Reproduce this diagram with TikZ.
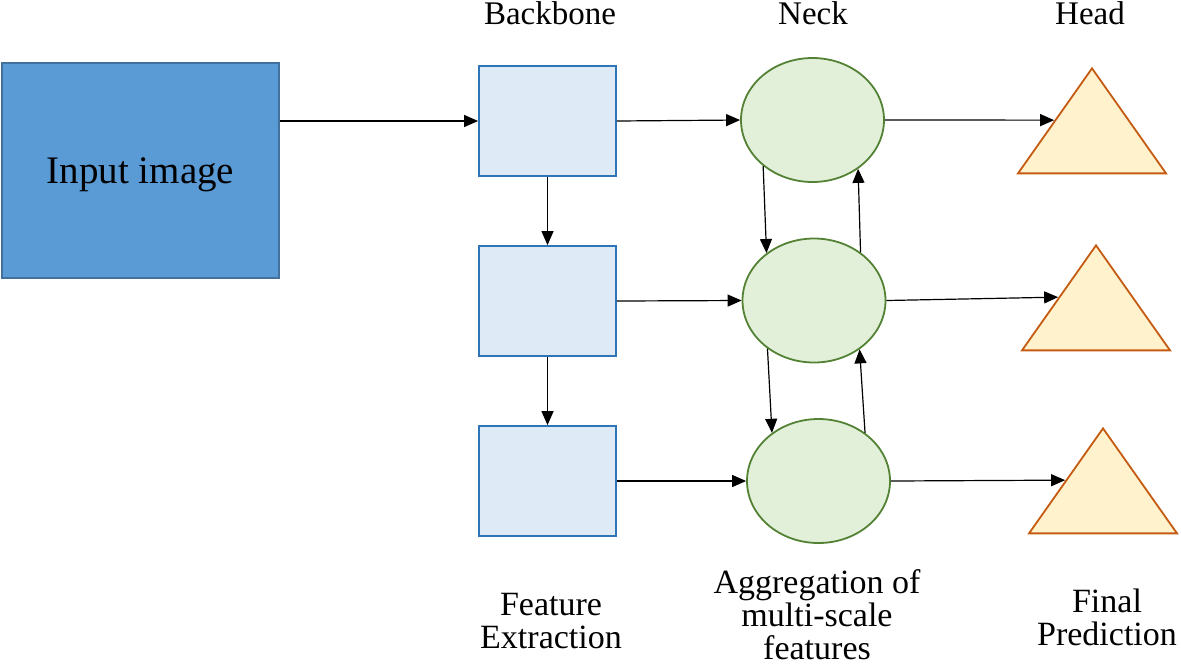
\documentclass[tikz,border=0pt]{standalone}
\usepackage{fontspec}
\setmainfont{Liberation Serif}
\usetikzlibrary{arrows.meta,shapes.geometric}

\definecolor{infill}{HTML}{5B9BD5}
\definecolor{inedge}{HTML}{41719C}
\definecolor{bbfill}{HTML}{DEEBF7}
\definecolor{bbedge}{HTML}{2E75B6}
\definecolor{nkfill}{HTML}{E2F0D9}
\definecolor{nkedge}{HTML}{548235}
\definecolor{hdfill}{HTML}{FFF2CC}
\definecolor{hdedge}{HTML}{C55A11}

\begin{document}
\begin{tikzpicture}[x=0.5pt, y=-0.5pt,
  inbox/.style  = {draw=inedge, fill=infill, line width=0.8pt,
                   minimum width=138.5pt, minimum height=107.5pt,
                   text depth=0pt, font=\fontsize{19.5}{22}\selectfont},
  stage/.style  = {draw=bbedge, fill=bbfill, line width=0.9pt,
                   minimum width=68.5pt, minimum height=55pt},
  neck/.style   = {ellipse, draw=nkedge, fill=nkfill, line width=0.9pt,
                   minimum width=71.5pt, minimum height=62pt},
                   % a head is an upright triangle, entered on its left side
  head/.style   = {isosceles triangle, isosceles triangle stretches,
                   shape border rotate=90, anchor=apex, inner sep=0pt,
                   draw=hdedge, fill=hdfill, line width=0.9pt,
                   minimum width=74pt, minimum height=52.5pt},
  arrow/.style  = {line width=0.6pt, -{Triangle[length=7pt,width=6pt]}},
  title/.style  = {font=\fontsize{16.5}{18}\selectfont, anchor=base,
                   inner sep=0pt},
  lbl/.style    = {font=\fontsize{17}{16.5}\selectfont, align=center,
                   inner sep=0pt},
]
  \useasboundingbox (0,0) rectangle (1181,666);

  \node[inbox] (img) at (140.5,170.5) {Input image};

  % backbone column
  \node[stage] (b1) at (547.5,121) {};
  \node[stage] (b2) at (547.5,301) {};
  \node[stage] (b3) at (547.5,481) {};

  % neck column
  \node[neck] (n1) at (812.5,120) {};
  \node[neck] (n2) at (814,300.5) {};
  \node[neck] (n3) at (818.5,481) {};

  % head column
  \node[head] (h1) at (1092,66) {};
  \node[head] (h2) at (1096,243) {};
  \node[head] (h3) at (1103,426) {};

  \draw[arrow] (img.east |- 0,121) -- (b1.west);
  \draw[arrow] (b1) -- (b2);
  \draw[arrow] (b2) -- (b3);

  \draw[arrow] (b1.east) -- (n1.west);
  \draw[arrow] (b2.east) -- (n2.west);
  \draw[arrow] (b3.east) -- (n3.west);

  % top-down and bottom-up paths in the neck
  \draw[arrow] (n1.223) -- (n2.135);
  \draw[arrow] (n2.226) -- (n3.134);
  \draw[arrow] (n2.46) -- (n1.313);
  \draw[arrow] (n3.46) -- (n2.313);

  \draw[arrow] (n1.east) -- (h1.left side);
  \draw[arrow] (n2.east) -- (h2.left side);
  \draw[arrow] (n3.east) -- (h3.left side);

  \node[title] (tb) at (550,24) {Backbone};
  \node[title] (tn) at (813,24) {Neck};
  \node[title] (th) at (1090,24) {Head};

  \node[lbl] (lb) at (551,621) {Feature\\Extraction};
  \node[lbl] (ln) at (817,615) {Aggregation of\\multi-scale\\features};
  \node[lbl] (lh) at (1107,617) {Final\\Prediction};
\end{tikzpicture}
\end{document}
